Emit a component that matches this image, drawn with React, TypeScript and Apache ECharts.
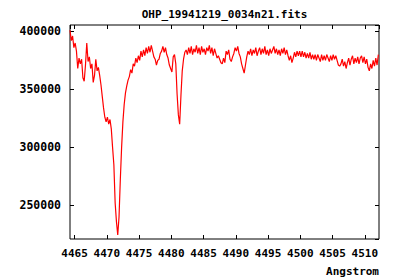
import React, { useEffect, useRef } from "react";
import * as echarts from "echarts";

const TITLE = "OHP_19941219_0034n21.fits";
const X_NAME = "Angstrom";
// FITS-style linear dispersion: first wavelength and step (Angstrom)
const CRVAL1 = 4464.3;
const CDELT1 = 0.2;
const X_MIN = 4464.3;
const X_MAX = 4512.2;
const Y_MIN = 221000;
const Y_MAX = 405500;

const flux = [
  401000, 392000, 396000, 386000, 390000, 383000, 368000, 377000, 372000, 376000,
  360000, 357000, 371000, 390000, 374000, 378000, 368000, 372000, 356000, 362000,
  376000, 366000, 369000, 362000, 354000, 344000, 334000, 326000, 322000, 326000,
  320000, 324000, 316000, 300000, 285000, 252000, 236000, 224500, 240000, 272000,
  300000, 322000, 337000, 347000, 353000, 358000, 361000, 367000, 364000, 372000,
  370000, 377000, 373000, 379000, 375000, 383000, 378000, 384000, 379000, 386000,
  381000, 387000, 382000, 388000, 383000, 378000, 376000, 371000, 375000, 376000,
  381000, 383000, 387000, 382000, 386000, 380000, 377000, 371000, 368000, 365000,
  378000, 380000, 372000, 346000, 328000, 320000, 345000, 366000, 376000, 382000,
  384000, 380000, 386000, 381000, 387000, 380000, 385000, 382000, 388000, 381000,
  386000, 380000, 387000, 382000, 385000, 380000, 386000, 383000, 388000, 381000,
  386000, 379000, 385000, 381000, 377000, 379000, 376000, 373000, 372000, 377000,
  373000, 383000, 380000, 384000, 376000, 374000, 378000, 381000, 386000, 383000,
  387000, 381000, 378000, 372000, 368000, 364000, 371000, 378000, 383000, 380000,
  385000, 379000, 384000, 381000, 386000, 379000, 383000, 386000, 380000, 385000,
  381000, 387000, 380000, 384000, 379000, 385000, 381000, 384000, 387000, 381000,
  385000, 380000, 384000, 379000, 385000, 381000, 386000, 380000, 384000, 379000,
  375000, 379000, 373000, 377000, 382000, 378000, 383000, 379000, 383000, 378000,
  383000, 378000, 382000, 377000, 381000, 377000, 382000, 376000, 380000, 376000,
  380000, 375000, 380000, 377000, 374000, 380000, 375000, 379000, 375000, 380000,
  377000, 374000, 379000, 375000, 380000, 376000, 379000, 375000, 371000, 370000,
  372000, 376000, 370000, 374000, 368000, 373000, 377000, 371000, 376000, 379000,
  372000, 377000, 373000, 378000, 372000, 377000, 379000, 373000, 378000, 372000,
  376000, 369000, 366000, 372000, 368000, 375000, 370000, 377000, 371000, 380000,
];

const FONT = "DejaVu Sans Mono";

export default function App() {
  const ref = useRef<HTMLDivElement>(null);
  useEffect(() => {
    if (!ref.current) return;
    const chart = echarts.init(ref.current, null, { renderer: "svg" });
    const data = flux.map((v, i) => [CRVAL1 + CDELT1 * i, v]);
    const labelStyle = {
      color: "#000",
      fontFamily: FONT,
      fontWeight: "bold" as const,
      fontSize: 11,
    };
    const plain = (v: number) => String(Math.round(v));
    const tick = { show: true, inside: true, length: 4, lineStyle: { color: "#000", width: 1 } };
    chart.setOption({
      animation: false,
      backgroundColor: "#fff",
      graphic: [
        {
          type: "text",
          x: 224.5,
          y: 14,
          style: {
            text: TITLE,
            fill: "#000",
            font: `bold 11px "${FONT}"`,
            textAlign: "center",
            textVerticalAlign: "middle",
          },
        },
        {
          type: "text",
          x: 379,
          y: 271,
          style: {
            text: X_NAME,
            fill: "#000",
            font: `bold 11px "${FONT}"`,
            textAlign: "right",
            textVerticalAlign: "middle",
          },
        },
      ],
      grid: {
        left: 70,
        top: 25,
        width: 309,
        height: 214,
        show: true,
        borderColor: "#000",
        borderWidth: 1,
        backgroundColor: "transparent",
      },
      xAxis: [
        {
          type: "value",
          min: X_MIN,
          max: X_MAX,
          splitNumber: 10,
          axisLine: { show: false },
          axisTick: tick,
          splitLine: { show: false },
          axisLabel: { ...labelStyle, margin: 9, showMinLabel: false, showMaxLabel: false, formatter: plain },
        },
        {
          type: "value",
          position: "top",
          min: X_MIN,
          max: X_MAX,
          splitNumber: 10,
          axisLine: { show: false },
          axisTick: tick,
          splitLine: { show: false },
          axisLabel: { show: false },
        },
      ],
      yAxis: [
        {
          type: "value",
          min: Y_MIN,
          max: Y_MAX,
          splitNumber: 4,
          axisLine: { show: false },
          axisTick: tick,
          splitLine: { show: false },
          axisLabel: { ...labelStyle, fontSize: 11.5, margin: 9, showMinLabel: false, showMaxLabel: false, formatter: plain },
        },
        {
          type: "value",
          position: "right",
          min: Y_MIN,
          max: Y_MAX,
          splitNumber: 4,
          axisLine: { show: false },
          axisTick: tick,
          splitLine: { show: false },
          axisLabel: { show: false },
        },
      ],
      series: [
        {
          type: "line",
          data,
          showSymbol: false,
          clip: true,
          lineStyle: { color: "#ff0000", width: 1.2 },
          itemStyle: { color: "#ff0000" },
        },
      ],
    });
    return () => chart.dispose();
  }, []);
  return (
    <div
      ref={ref}
      style={{ position: "fixed", left: 0, top: 0, width: 400, height: 280 }}
    />
  );
}
